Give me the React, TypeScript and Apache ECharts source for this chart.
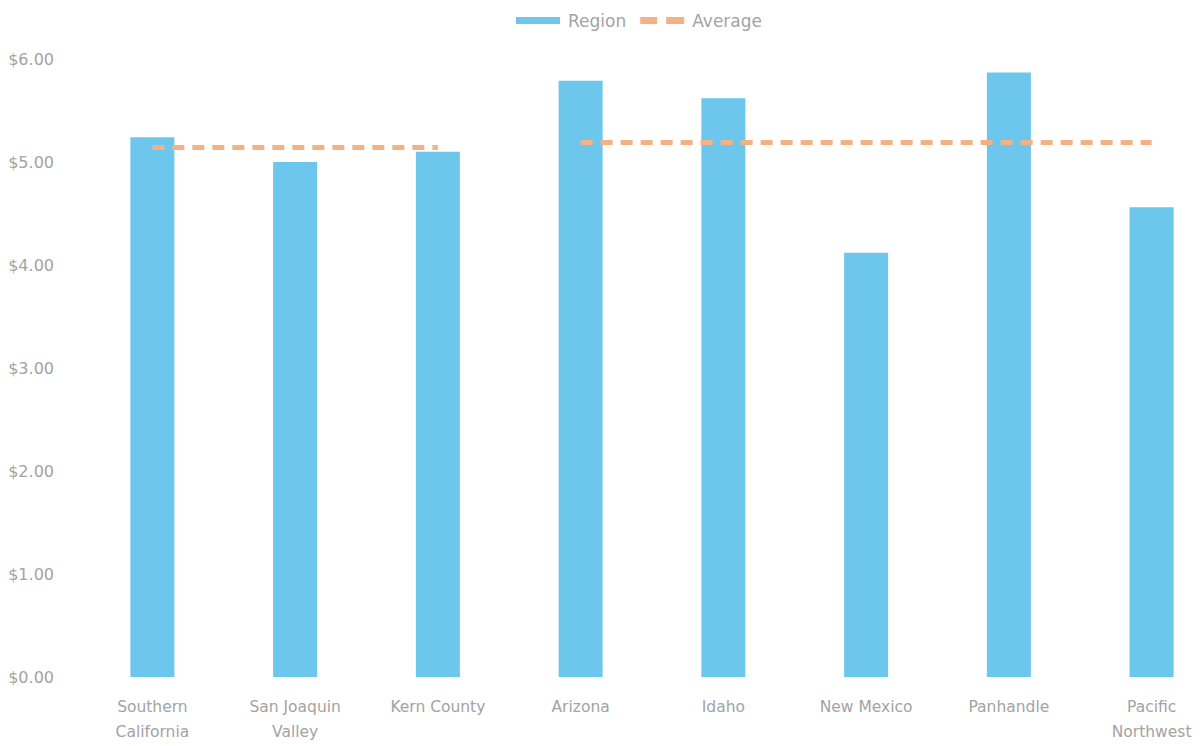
import React, { useEffect, useRef } from "react";
import * as echarts from "echarts";

const categories = [
  "Southern\nCalifornia",
  "San Joaquin\nValley",
  "Kern County",
  "Arizona",
  "Idaho",
  "New Mexico",
  "Panhandle",
  "Pacific\nNorthwest",
];
const regionValues = [5.24, 5.0, 5.1, 5.79, 5.62, 4.12, 5.87, 4.56];
const averageWest = [5.14, 5.14, 5.14, "-", "-", "-", "-", "-"];
const averageOther = ["-", "-", "-", 5.19, 5.19, 5.19, 5.19, 5.19];
const yTicks = { min: 0, max: 6, interval: 1 };

const FONT = "'DejaVu Sans', sans-serif";
const TEXT = "#a3a3a3";
const BLUE = "#6DC6EC";
const ORANGE = "#F4B183";

export default function App() {
  const ref = useRef<HTMLDivElement>(null);
  useEffect(() => {
    if (!ref.current) return;
    const chart = echarts.init(ref.current, undefined, { renderer: "svg" });
    chart.setOption({
      animation: false,
      backgroundColor: "#ffffff",
      textStyle: { fontFamily: FONT },
      legend: {
        top: 7,
        left: 511,
        itemWidth: 44,
        itemHeight: 7,
        itemGap: 14,
        textStyle: { color: TEXT, fontSize: 17, fontFamily: FONT, padding: [0, 0, 0, 3] },
        data: [
          { name: "Region", icon: "rect" },
          {
            name: "Average",
            icon: "path://M0,0h17v7h-17z M26,0h18v7h-18z",
            itemStyle: { color: ORANGE },
          },
        ],
      },
      grid: { left: 81, top: 59, right: 7, bottom: 69, containLabel: false },
      xAxis: {
        type: "category",
        data: categories,
        axisLine: { show: false },
        axisTick: { show: false },
        axisLabel: {
          color: TEXT,
          fontSize: 15.5,
          fontFamily: FONT,
          margin: 17,
          lineHeight: 25,
          interval: 0,
        },
      },
      yAxis: {
        type: "value",
        min: yTicks.min,
        max: yTicks.max,
        interval: yTicks.interval,
        splitLine: { show: false },
        axisLine: { show: false },
        axisTick: { show: false },
        axisLabel: {
          color: TEXT,
          fontSize: 16,
          fontFamily: FONT,
          margin: 27,
          formatter: (v: number) => "$" + v.toFixed(2),
        },
      },
      series: [
        {
          name: "Region",
          type: "bar",
          data: regionValues,
          barWidth: 44,
          itemStyle: { color: BLUE },
        },
        {
          name: "Average",
          type: "line",
          data: averageWest,
          symbol: "none",
          lineStyle: { color: ORANGE, width: 5, type: [12, 8] },
          itemStyle: { color: ORANGE },
          z: 3,
        },
        {
          name: "Average",
          type: "line",
          data: averageOther,
          symbol: "none",
          lineStyle: { color: ORANGE, width: 5, type: [12, 8] },
          itemStyle: { color: ORANGE },
          z: 3,
        },
      ],
    });
    return () => chart.dispose();
  }, []);
  return (
    <div
      ref={ref}
      style={{ position: "fixed", left: 0, top: 0, width: 1230, height: 746 }}
    />
  );
}
